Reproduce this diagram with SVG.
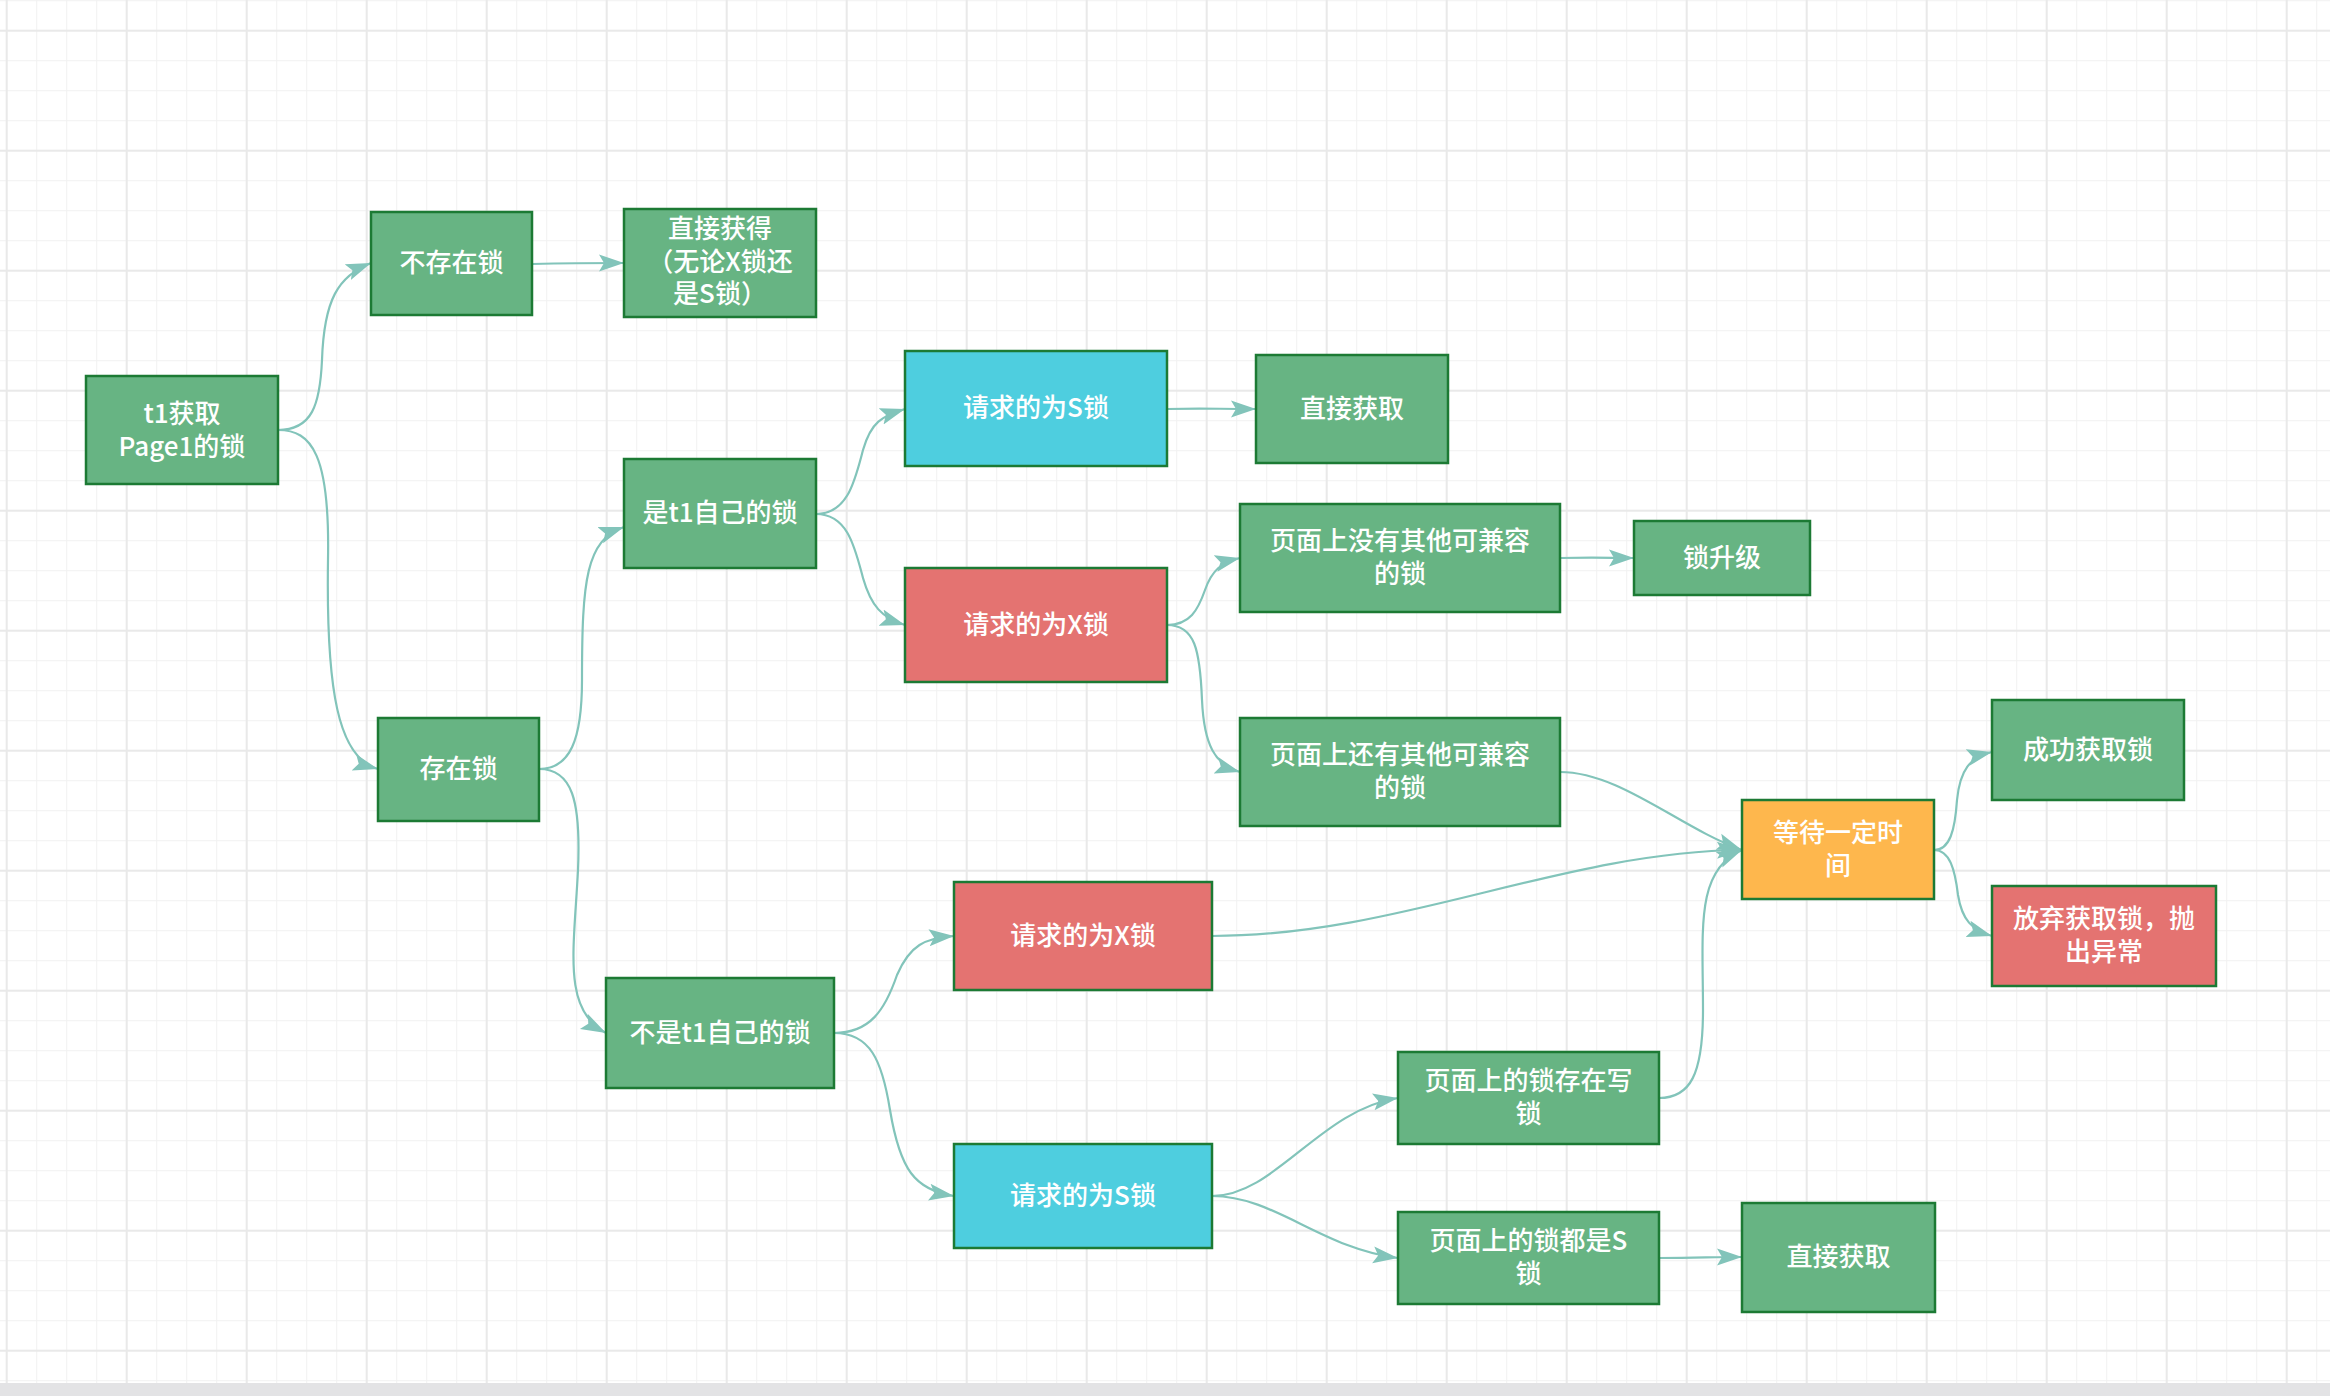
<svg xmlns="http://www.w3.org/2000/svg" width="2330" height="1396" viewBox="0 0 2330 1396">
  <style>
    .n rect { stroke: #1c7a34; stroke-width: 2.5; }
    .g rect { fill: #67b483; }
    .c rect { fill: #4ecedf; }
    .r rect { fill: #e47371; }
    .o rect { fill: #feb74d; }
    .n text { font-family: "Noto Sans CJK SC", "Noto Sans", sans-serif; font-size: 26px; font-weight: 500; fill: #ffffff; text-anchor: middle; dominant-baseline: central; }
    #connectors path { fill: none; stroke: #82c4ba; stroke-width: 2.2; marker-end: url(#arrow); }
  </style>
  <defs>
    <pattern id="minor" x="6.2" y="0.2" width="30" height="30" patternUnits="userSpaceOnUse">
      <path d="M0.5,0 V30 M0,0.5 H30" stroke="#f1f1f1" stroke-width="1" fill="none"/>
    </pattern>
    <pattern id="major" x="5.7" y="29.7" width="120" height="120" patternUnits="userSpaceOnUse">
      <path d="M1,0 V120 M0,1 H120" stroke="#e9e9e9" stroke-width="2" fill="none"/>
    </pattern>
    <marker id="arrow" markerUnits="userSpaceOnUse" markerWidth="28" markerHeight="20" refX="25" refY="9" orient="auto">
      <path d="M0,0.5 L25,9 L0,17.5 L5,9 Z" fill="#82c4ba"/>
    </marker>
  </defs>

  <rect x="0" y="0" width="2330" height="1396" fill="#ffffff"/>
  <rect x="0" y="0" width="2330" height="1396" fill="url(#minor)"/>
  <rect x="0" y="0" width="2330" height="1396" fill="url(#major)"/>
  <rect x="0" y="1383" width="2330" height="13" fill="#e3e3e5"/>

  <g id="connectors">
    <path d="M278,430 C312,430 320,405 322,360 C324,300 338,276 371,263"/>
    <path d="M532,264 C575,263 590,263 624,263"/>
    <path d="M278,430 C312,430 330,455 328,560 C326,690 338,758 378,769"/>
    <path d="M539,769 C570,769 582,740 582,680 C582,580 586,540 624,527"/>
    <path d="M539,769 C572,769 581,800 578,870 C574,950 562,1010 606,1033"/>
    <path d="M816,514 C848,514 855,480 863,450 C871,422 882,416 905,409"/>
    <path d="M816,514 C848,514 855,548 863,578 C871,606 882,618 905,625"/>
    <path d="M1167,409 C1205,408 1215,409 1256,409"/>
    <path d="M1167,625 C1190,625 1198,610 1205,590 C1212,570 1222,562 1240,558"/>
    <path d="M1167,625 C1195,625 1200,650 1202,700 C1204,745 1215,765 1240,772"/>
    <path d="M1560,558 C1600,557 1610,558 1634,558"/>
    <path d="M1560,772 C1620,772 1680,828 1742,850"/>
    <path d="M1212,936 C1400,936 1560,852 1742,850"/>
    <path d="M1659,1098 C1690,1098 1703,1075 1703,1010 C1703,930 1695,870 1742,850"/>
    <path d="M1934,850 C1950,850 1955,830 1957,800 C1960,770 1970,757 1992,752"/>
    <path d="M1934,850 C1950,850 1955,870 1958,895 C1962,920 1972,930 1992,936"/>
    <path d="M834,1033 C870,1033 885,1010 897,975 C910,945 925,938 954,936"/>
    <path d="M834,1033 C870,1033 882,1060 890,1110 C900,1170 915,1190 954,1196"/>
    <path d="M1212,1196 C1275,1196 1320,1110 1398,1098"/>
    <path d="M1212,1196 C1275,1196 1320,1248 1398,1258"/>
    <path d="M1659,1258 C1700,1258 1710,1257 1742,1257"/>
  </g>

  <g id="n-t1" class="n g">
    <rect x="86" y="376" width="192" height="108"/>
    <text x="182" y="411">t1获取</text>
    <text x="182" y="444">Page1的锁</text>
  </g>
  <g id="n-nolock" class="n g">
    <rect x="371" y="212" width="161" height="103"/>
    <text x="451.5" y="260.5">不存在锁</text>
  </g>
  <g id="n-direct1" class="n g">
    <rect x="624" y="209" width="192" height="108"/>
    <text x="720" y="226">直接获得</text>
    <text x="720" y="259">（无论X锁还</text>
    <text x="720" y="291">是S锁）</text>
  </g>
  <g id="n-haslock" class="n g">
    <rect x="378" y="718" width="161" height="103"/>
    <text x="458.5" y="766.5">存在锁</text>
  </g>
  <g id="n-own" class="n g">
    <rect x="624" y="459" width="192" height="109"/>
    <text x="720" y="510.5">是t1自己的锁</text>
  </g>
  <g id="n-own-s" class="n c">
    <rect x="905" y="351" width="262" height="115"/>
    <text x="1036" y="405.5">请求的为S锁</text>
  </g>
  <g id="n-direct2" class="n g">
    <rect x="1256" y="355" width="192" height="108"/>
    <text x="1352" y="406">直接获取</text>
  </g>
  <g id="n-own-x" class="n r">
    <rect x="905" y="568" width="262" height="114"/>
    <text x="1036" y="622">请求的为X锁</text>
  </g>
  <g id="n-nocompat" class="n g">
    <rect x="1240" y="504" width="320" height="108"/>
    <text x="1400" y="538.5">页面上没有其他可兼容</text>
    <text x="1400" y="571.5">的锁</text>
  </g>
  <g id="n-upgrade" class="n g">
    <rect x="1634" y="521" width="176" height="74"/>
    <text x="1722" y="555">锁升级</text>
  </g>
  <g id="n-compat" class="n g">
    <rect x="1240" y="718" width="320" height="108"/>
    <text x="1400" y="752.5">页面上还有其他可兼容</text>
    <text x="1400" y="785.5">的锁</text>
  </g>
  <g id="n-wait" class="n o">
    <rect x="1742" y="800" width="192" height="99"/>
    <text x="1838" y="830">等待一定时</text>
    <text x="1838" y="863">间</text>
  </g>
  <g id="n-success" class="n g">
    <rect x="1992" y="700" width="192" height="100"/>
    <text x="2088" y="747">成功获取锁</text>
  </g>
  <g id="n-fail" class="n r">
    <rect x="1992" y="886" width="224" height="100"/>
    <text x="2104" y="916.5">放弃获取锁，抛</text>
    <text x="2104" y="949.5">出异常</text>
  </g>
  <g id="n-other" class="n g">
    <rect x="606" y="978" width="228" height="110"/>
    <text x="720" y="1030">不是t1自己的锁</text>
  </g>
  <g id="n-other-x" class="n r">
    <rect x="954" y="882" width="258" height="108"/>
    <text x="1083" y="933">请求的为X锁</text>
  </g>
  <g id="n-other-s" class="n c">
    <rect x="954" y="1144" width="258" height="104"/>
    <text x="1083" y="1193">请求的为S锁</text>
  </g>
  <g id="n-write" class="n g">
    <rect x="1398" y="1052" width="261" height="92"/>
    <text x="1528.5" y="1078.5">页面上的锁存在写</text>
    <text x="1528.5" y="1111.5">锁</text>
  </g>
  <g id="n-alls" class="n g">
    <rect x="1398" y="1212" width="261" height="92"/>
    <text x="1528.5" y="1238.5">页面上的锁都是S</text>
    <text x="1528.5" y="1271.5">锁</text>
  </g>
  <g id="n-direct3" class="n g">
    <rect x="1742" y="1203" width="193" height="109"/>
    <text x="1838.5" y="1254.5">直接获取</text>
  </g>
</svg>
